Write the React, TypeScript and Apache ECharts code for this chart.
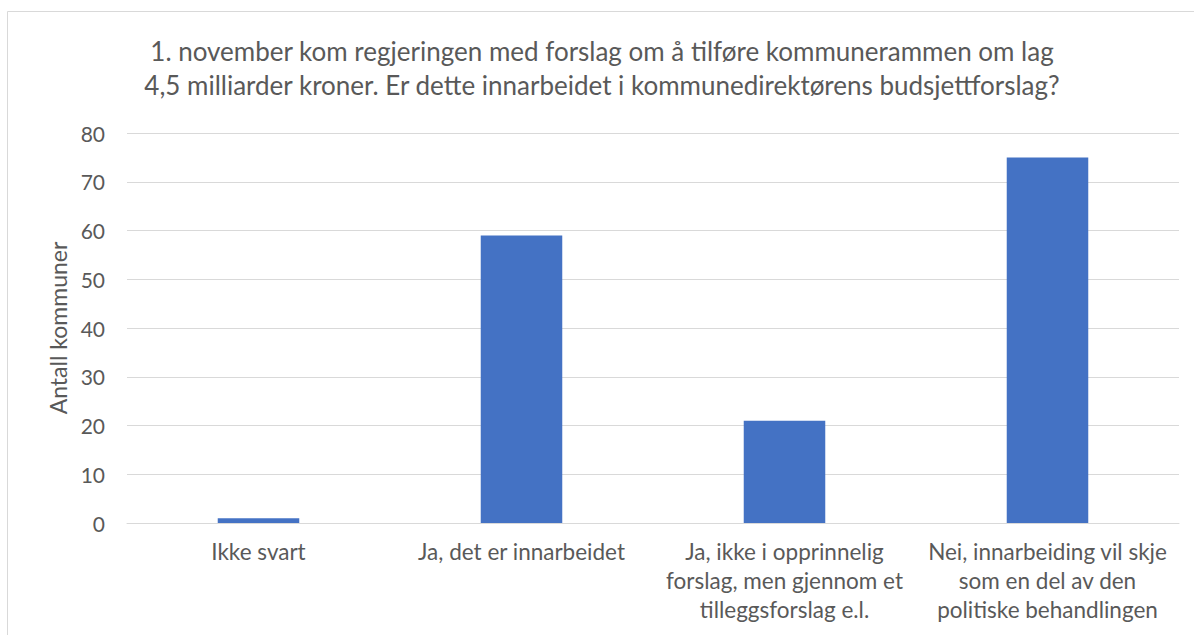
import React, { useEffect, useRef } from "react";
import * as echarts from "echarts";

const titleLines = [
  "1. november kom regjeringen med forslag om å tilføre kommunerammen om lag",
  "4,5 milliarder kroner. Er dette innarbeidet i kommunedirektørens budsjettforslag?",
];
const categories = [
  "Ikke svart",
  "Ja, det er innarbeidet",
  "Ja, ikke i opprinnelig\nforslag, men gjennom et\ntilleggsforslag e.l.",
  "Nei, innarbeiding vil skje\nsom en del av den\npolitiske behandlingen",
];
const values = [1, 59, 21, 75];
const yAxisName = "Antall kommuner";
const yMin = 0;
const yMax = 80;
const yInterval = 10;

const FONT = "Lato";
const GREY = "#595959";

export default function App() {
  const ref = useRef<HTMLDivElement>(null);
  useEffect(() => {
    if (!ref.current) return;
    const chart = echarts.init(ref.current, null, { renderer: "svg" });
    chart.setOption({
      animation: false,
      backgroundColor: "#ffffff",
      title: {
        text: titleLines.join("\n"),
        left: 597,
        textAlign: "center",
        top: 29,
        textStyle: {
          fontFamily: FONT,
          fontSize: 26,
          lineHeight: 34,
          fontWeight: "normal",
          color: GREY,
        },
      },
      graphic: [
        {
          type: "rect",
          shape: { x: 7.5, y: 11.5, width: 1300, height: 700 },
          style: { fill: "none", stroke: "#d9d9d9", lineWidth: 1 },
          silent: true,
        },
      ],
      grid: { left: 127, right: 15, top: 133, bottom: 112, containLabel: false },
      xAxis: {
        type: "category",
        data: categories,
        axisLine: { show: true, lineStyle: { color: "#d9d9d9", width: 1 } },
        axisTick: { show: false },
        axisLabel: {
          interval: 0,
          fontFamily: FONT,
          fontSize: 22.5,
          lineHeight: 29,
          color: GREY,
          margin: 14,
          align: "center",
        },
      },
      yAxis: {
        type: "value",
        min: yMin,
        max: yMax,
        interval: yInterval,
        name: yAxisName,
        nameLocation: "middle",
        nameGap: 56,
        nameRotate: 90,
        nameTextStyle: { fontFamily: FONT, fontSize: 23, color: GREY },
        axisLine: { show: false },
        axisTick: { show: false },
        axisLabel: { fontFamily: FONT, fontSize: 21, color: GREY, margin: 22 },
        splitLine: { show: true, lineStyle: { color: "#d9d9d9", width: 1 } },
      },
      series: [
        {
          type: "bar",
          data: values,
          barWidth: "31%",
          itemStyle: { color: "#4472c4" },
        },
      ],
    });
    return () => chart.dispose();
  }, []);
  return (
    <div
      ref={ref}
      style={{ position: "fixed", left: 0, top: 0, width: 1194, height: 635 }}
    />
  );
}
